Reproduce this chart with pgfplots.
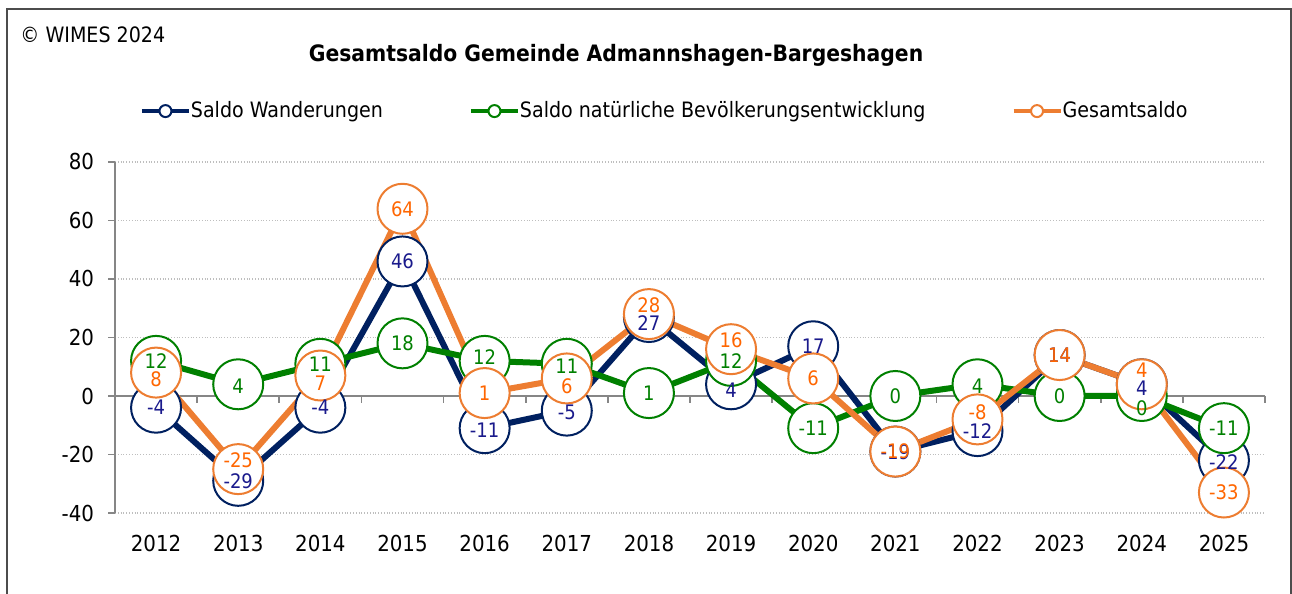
\documentclass[border=0pt]{standalone}
\usepackage{fontspec}
\setmainfont{DejaVu Sans Condensed}
\usepackage{pgfplots}
\usepackage{pgfplotstable}
\pgfplotsset{compat=1.18}
\definecolor{navyl}{RGB}{0,32,96}
\definecolor{navytxt}{RGB}{26,26,140}
\definecolor{grn}{RGB}{0,128,0}
\definecolor{orn}{RGB}{237,125,49}
\definecolor{orntxt}{RGB}{255,102,0}
\definecolor{axgray}{RGB}{134,134,134}
\definecolor{gridgray}{RGB}{190,190,190}

\pgfplotstableread{
x y dy lbl
0 -4 0 -4
1 -29 0 -29
2 -4 0 -4
3 46 0 46
4 -11 -1 -11
5 -5 -1 -5
6 27 -3 27
7 4 -3 4
8 17 0 17
9 -19 -0.5 -19
10 -12 0 -12
11 14 0 14
12 4 -2 4
13 -22 -1 -22
}\wanderung

\pgfplotstableread{
x y dy lbl
0 12 0 12
1 4 -1 4
2 11 0 11
3 18 0 18
4 12 2 12
5 11 -1 11
6 1 0 1
7 12 0 12
8 -11 0 -11
9 0 0 0
10 4 -1 4
11 0 0 0
12 0 -6 0
13 -11 0 -11
}\natuerlich

\pgfplotstableread{
x y dy lbl
0 8 -3.5 8
1 -25 4.5 -25
2 7 -4 7
3 64 0 64
4 1 0 1
5 6 -3.8 6
6 28 4.5 28
7 16 4.5 16
8 6 0 6
9 -19 0 -19
10 -8 3.5 -8
11 14 0 14
12 4 7 4
13 -33 0 -33
}\gesamt

\pgfplotsset{
  serie/.style={line width=3pt, line join=round, mark=*, mark size=12.5pt,
    mark options={fill=white, draw=#1, line width=1pt, solid}, forget plot},
  lbls/.style={draw=none, mark=none, forget plot, nodes near coords,
    point meta=explicit symbolic,
    visualization depends on={\thisrow{dy} \as \dy},
    every node near coord/.append style={anchor=center, yshift=\dy*1pt, text=#1,
      font=\fontsize{10}{12}\selectfont, inner sep=0pt}},
}

\begin{document}
\begin{tikzpicture}
\path[use as bounding box] (0,0) rectangle (646pt,297pt);
\draw[gray!60!black, line width=1pt] (3.5pt,-5pt) -- (3.5pt,292.5pt) -- (645.3pt,292.5pt) -- (645.3pt,-5pt);
\node[anchor=west, font=\fontsize{10.6}{12}\selectfont, inner sep=0pt] at (10pt,279.5pt) {© WIMES 2024};
\node[font=\fontsize{11.3}{13}\selectfont\bfseries, inner sep=0pt] at (308pt,269.5pt) {Gesamtsaldo Gemeinde Admannshagen-Bargeshagen};
\begin{axis}[
  at={(57.5pt,40.5pt)}, anchor=south west, scale only axis,
  width=575pt, height=175.5pt,
  xmin=-0.5, xmax=13.5, ymin=-40, ymax=80,
  clip=false,
  axis x line=middle, axis y line=left,
  axis line style={-, draw=axgray, line width=1pt},
  hide obscured x ticks=false,
  xtick={-0.5,0.5,...,13.5}, xticklabels={},
  extra x ticks={0,1,...,13},
  extra x tick labels={2012,2013,2014,2015,2016,2017,2018,2019,2020,2021,2022,2023,2024,2025},
  extra x tick style={major tick length=0pt, tick label style={yshift=-66pt}},
  ytick={-40,-20,...,80},
  yticklabels={-40,-20,0,20,40,60,80},
  yticklabel style={xshift=-3.5pt},
  tick align=outside,
  major tick length=3.5pt,
  tick style={draw=axgray, line width=0.8pt},
  ymajorgrids,
  grid style={densely dotted, draw=gridgray, line width=0.6pt},
  tick label style={font=\fontsize{11}{13}\selectfont, text=black},
  legend columns=3,
  legend cell align=left,
  legend style={draw=none, fill=none, at={(0.0217,1.145)}, anchor=west,
    inner sep=0pt, outer sep=0pt, font=\fontsize{10.6}{12}\selectfont,
    /tikz/every even column/.append style={column sep=43pt},
    nodes={inner xsep=0pt, inner ysep=0.6pt}},
]
\addlegendimage{legend image code/.code={\draw[navyl,line width=2pt](0pt,0pt)--(23.5pt,0pt);\draw[navyl,line width=1pt,fill=white](11.75pt,0pt) circle (3pt);}}
\addlegendentry{Saldo Wanderungen}
\addlegendimage{legend image code/.code={\draw[grn,line width=2pt](0pt,0pt)--(23.5pt,0pt);\draw[grn,line width=1pt,fill=white](11.75pt,0pt) circle (3pt);}}
\addlegendentry{Saldo natürliche Bevölkerungsentwicklung}
\addlegendimage{legend image code/.code={\draw[orn,line width=2pt](0pt,0pt)--(23.5pt,0pt);\draw[orn,line width=1pt,fill=white](11.75pt,0pt) circle (3pt);}}
\addlegendentry{Gesamtsaldo}

\addplot[navyl, serie=navyl] table[x=x, y=y] {\wanderung};
\addplot[grn, serie=grn] table[x=x, y=y] {\natuerlich};
\addplot[orn, serie=orn] table[x=x, y=y] {\gesamt};

\addplot[lbls=navytxt] table[x=x, y=y, meta=lbl] {\wanderung};
\addplot[lbls=grn] table[x=x, y=y, meta=lbl] {\natuerlich};
\addplot[lbls=orntxt] table[x=x, y=y, meta=lbl] {\gesamt};
\end{axis}
\end{tikzpicture}
\end{document}
